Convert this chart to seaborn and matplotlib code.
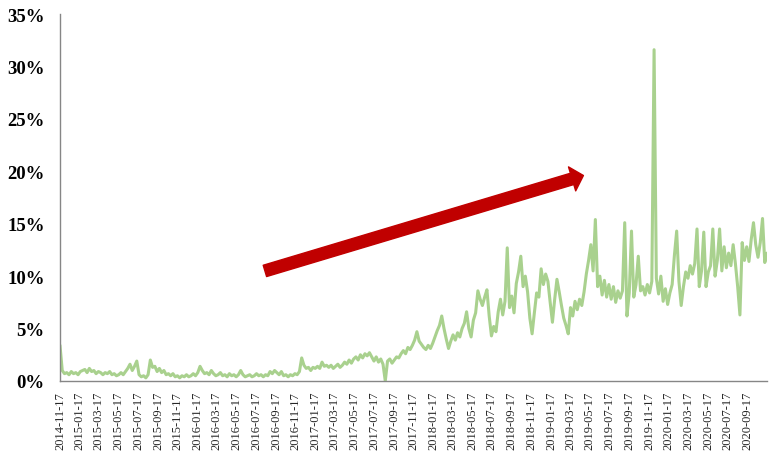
import numpy as np
import pandas as pd
import matplotlib
matplotlib.use("Agg")
import matplotlib.pyplot as plt
import matplotlib.dates as mdates
from matplotlib.patches import FancyArrowPatch
import seaborn as sns

# ---- data (weekly readings, percent) ----
start_date = "2014-11-17"
share_pct = [
    3.4, 1.0, 0.7, 0.8, 0.6, 0.9, 0.7, 0.8, 0.6, 0.9,
    1.0, 1.1, 0.8, 1.2, 0.9, 1.0, 0.7, 0.9, 0.8, 0.6,
    0.8, 0.7, 0.9, 0.6, 0.7, 0.5, 0.6, 0.8, 0.6, 0.9,
    1.2, 1.6, 1.0, 1.4, 1.9, 0.6, 0.4, 0.5, 0.3, 0.6,
    2.0, 1.3, 1.4, 0.9, 1.2, 0.8, 1.0, 0.6, 0.7, 0.5,
    0.7, 0.4, 0.5, 0.3, 0.5, 0.4, 0.6, 0.4, 0.5, 0.7,
    0.5, 0.8, 1.4, 1.0, 0.7, 0.8, 0.6, 1.0, 0.7, 0.5,
    0.6, 0.8, 0.5, 0.6, 0.4, 0.7, 0.5, 0.6, 0.4, 0.6,
    1.0, 0.6, 0.4, 0.5, 0.6, 0.4, 0.5, 0.7, 0.5, 0.6,
    0.4, 0.6, 0.5, 0.9, 0.7, 1.0, 0.8, 0.6, 0.9, 0.5,
    0.6, 0.4, 0.6, 0.5, 0.7, 0.6, 0.9, 2.2, 1.5, 1.2,
    1.3, 1.0, 1.3, 1.2, 1.4, 1.2, 1.8, 1.4, 1.5, 1.3,
    1.5, 1.2, 1.4, 1.6, 1.3, 1.5, 1.8, 1.6, 2.0, 1.7,
    2.1, 2.3, 2.0, 2.5, 2.2, 2.6, 2.4, 2.7, 2.3, 1.9,
    2.3, 1.8, 2.1, 1.6, 0.0, 1.9, 2.1, 1.7, 2.0, 2.3,
    2.2, 2.6, 2.9, 2.6, 3.2, 3.0, 3.4, 3.9, 4.7, 3.8,
    3.5, 3.2, 3.0, 3.4, 3.1, 3.6, 4.2, 4.8, 5.3, 6.2,
    5.0, 4.0, 3.1, 3.8, 4.4, 3.9, 4.6, 4.2, 5.0, 5.5,
    6.6, 5.0, 4.2, 5.8, 6.5, 8.6, 7.8, 7.2, 8.0, 8.7,
    6.2, 4.3, 5.2, 4.7, 6.6, 7.8, 6.3, 7.6, 12.7, 7.0,
    8.1, 6.5, 9.3, 10.4, 11.9, 9.0, 10.0, 8.5, 6.0, 4.5,
    6.5, 8.4, 8.0, 10.7, 9.2, 10.2, 9.5, 7.5, 5.6, 7.8,
    9.7, 8.5, 7.2, 6.0, 5.3, 4.5, 7.0, 6.2, 7.6, 6.8,
    7.8, 7.2, 8.5, 10.2, 11.5, 13.0, 10.5, 15.4, 9.0, 10.0,
    8.2, 9.6, 8.0, 9.2, 7.8, 9.0, 7.5, 8.6, 7.9, 8.6,
    15.1, 6.2, 8.4, 14.3, 8.0, 9.2, 11.9, 8.6, 9.0, 8.2,
    9.2, 8.4, 9.5, 31.6, 9.8, 8.3, 10.0, 7.6, 8.8, 7.3,
    8.4, 9.2, 12.0, 14.3, 9.5, 7.2, 9.0, 10.4, 9.8, 11.0,
    10.2, 11.2, 14.5, 9.0, 10.5, 14.2, 9.0, 10.4, 11.0, 14.5,
    10.0, 11.5, 14.5, 10.5, 12.8, 10.8, 12.2, 11.0, 13.0, 11.2,
    9.0, 6.3, 13.2, 11.5, 12.8, 11.4, 13.5, 15.1, 13.0, 11.8,
    13.2, 15.5, 11.3, 12.2,
]
y_ticks = [0, 5, 10, 15, 20, 25, 30, 35]
y_tick_labels = ["0%", "5%", "10%", "15%", "20%", "25%", "30%", "35%"]
x_tick_labels = [
    "2014-11-17", "2015-01-17", "2015-03-17", "2015-05-17", "2015-07-17",
    "2015-09-17", "2015-11-17", "2016-01-17", "2016-03-17", "2016-05-17",
    "2016-07-17", "2016-09-17", "2016-11-17", "2017-01-17", "2017-03-17",
    "2017-05-17", "2017-07-17", "2017-09-17", "2017-11-17", "2018-01-17",
    "2018-03-17", "2018-05-17", "2018-07-17", "2018-09-17", "2018-11-17",
    "2019-01-17", "2019-03-17", "2019-05-17", "2019-07-17", "2019-09-17",
    "2019-11-17", "2020-01-17", "2020-03-17", "2020-05-17", "2020-07-17",
    "2020-09-17",
]
arrow_start = ("2016-08-13", 10.5)
arrow_end = ("2019-04-27", 19.6)

dates = pd.date_range(start_date, periods=len(share_pct), freq="7D")
df = pd.DataFrame({"date": dates, "share": share_pct})
x_tick_dates = pd.to_datetime(x_tick_labels)

sns.set_theme(style="white")
plt.rcParams["font.family"] = ["Liberation Serif", "DejaVu Serif"]

fig = plt.figure(figsize=(7.74, 4.56), dpi=100)
ax = fig.add_axes([0.0775, 0.1623, 0.9135, 0.8047])

sns.lineplot(data=df, x="date", y="share", color="#A9D18E", linewidth=2.2, ax=ax)

ax.set_xlim(dates[0], dates[-1])
ax.set_ylim(0, 35)
ax.set_yticks(y_ticks)
ax.set_yticklabels(y_tick_labels, fontsize=13.5, fontweight="bold", color="black")
ax.set_xticks(x_tick_dates)
ax.set_xticklabels(x_tick_labels, rotation=90, fontsize=9, color="#262626")
ax.set_xlabel("")
ax.set_ylabel("")

for s in ["top", "right"]:
    ax.spines[s].set_visible(False)
for s in ["left", "bottom"]:
    ax.spines[s].set_color("#868686")
    ax.spines[s].set_linewidth(1.0)
ax.tick_params(axis="both", direction="in", length=3, width=1, color="#868686")
ax.tick_params(axis="y", pad=11)
ax.tick_params(axis="x", pad=7)
ax.grid(False)

arrow = FancyArrowPatch(
    (mdates.date2num(pd.Timestamp(arrow_start[0])), arrow_start[1]),
    (mdates.date2num(pd.Timestamp(arrow_end[0])), arrow_end[1]),
    arrowstyle="simple,head_length=8.5,head_width=18,tail_width=8.5",
    mutation_scale=1, color="#C00000", shrinkA=0, shrinkB=0, zorder=5,
)
ax.add_patch(arrow)

fig.savefig("out.png", dpi=100)
